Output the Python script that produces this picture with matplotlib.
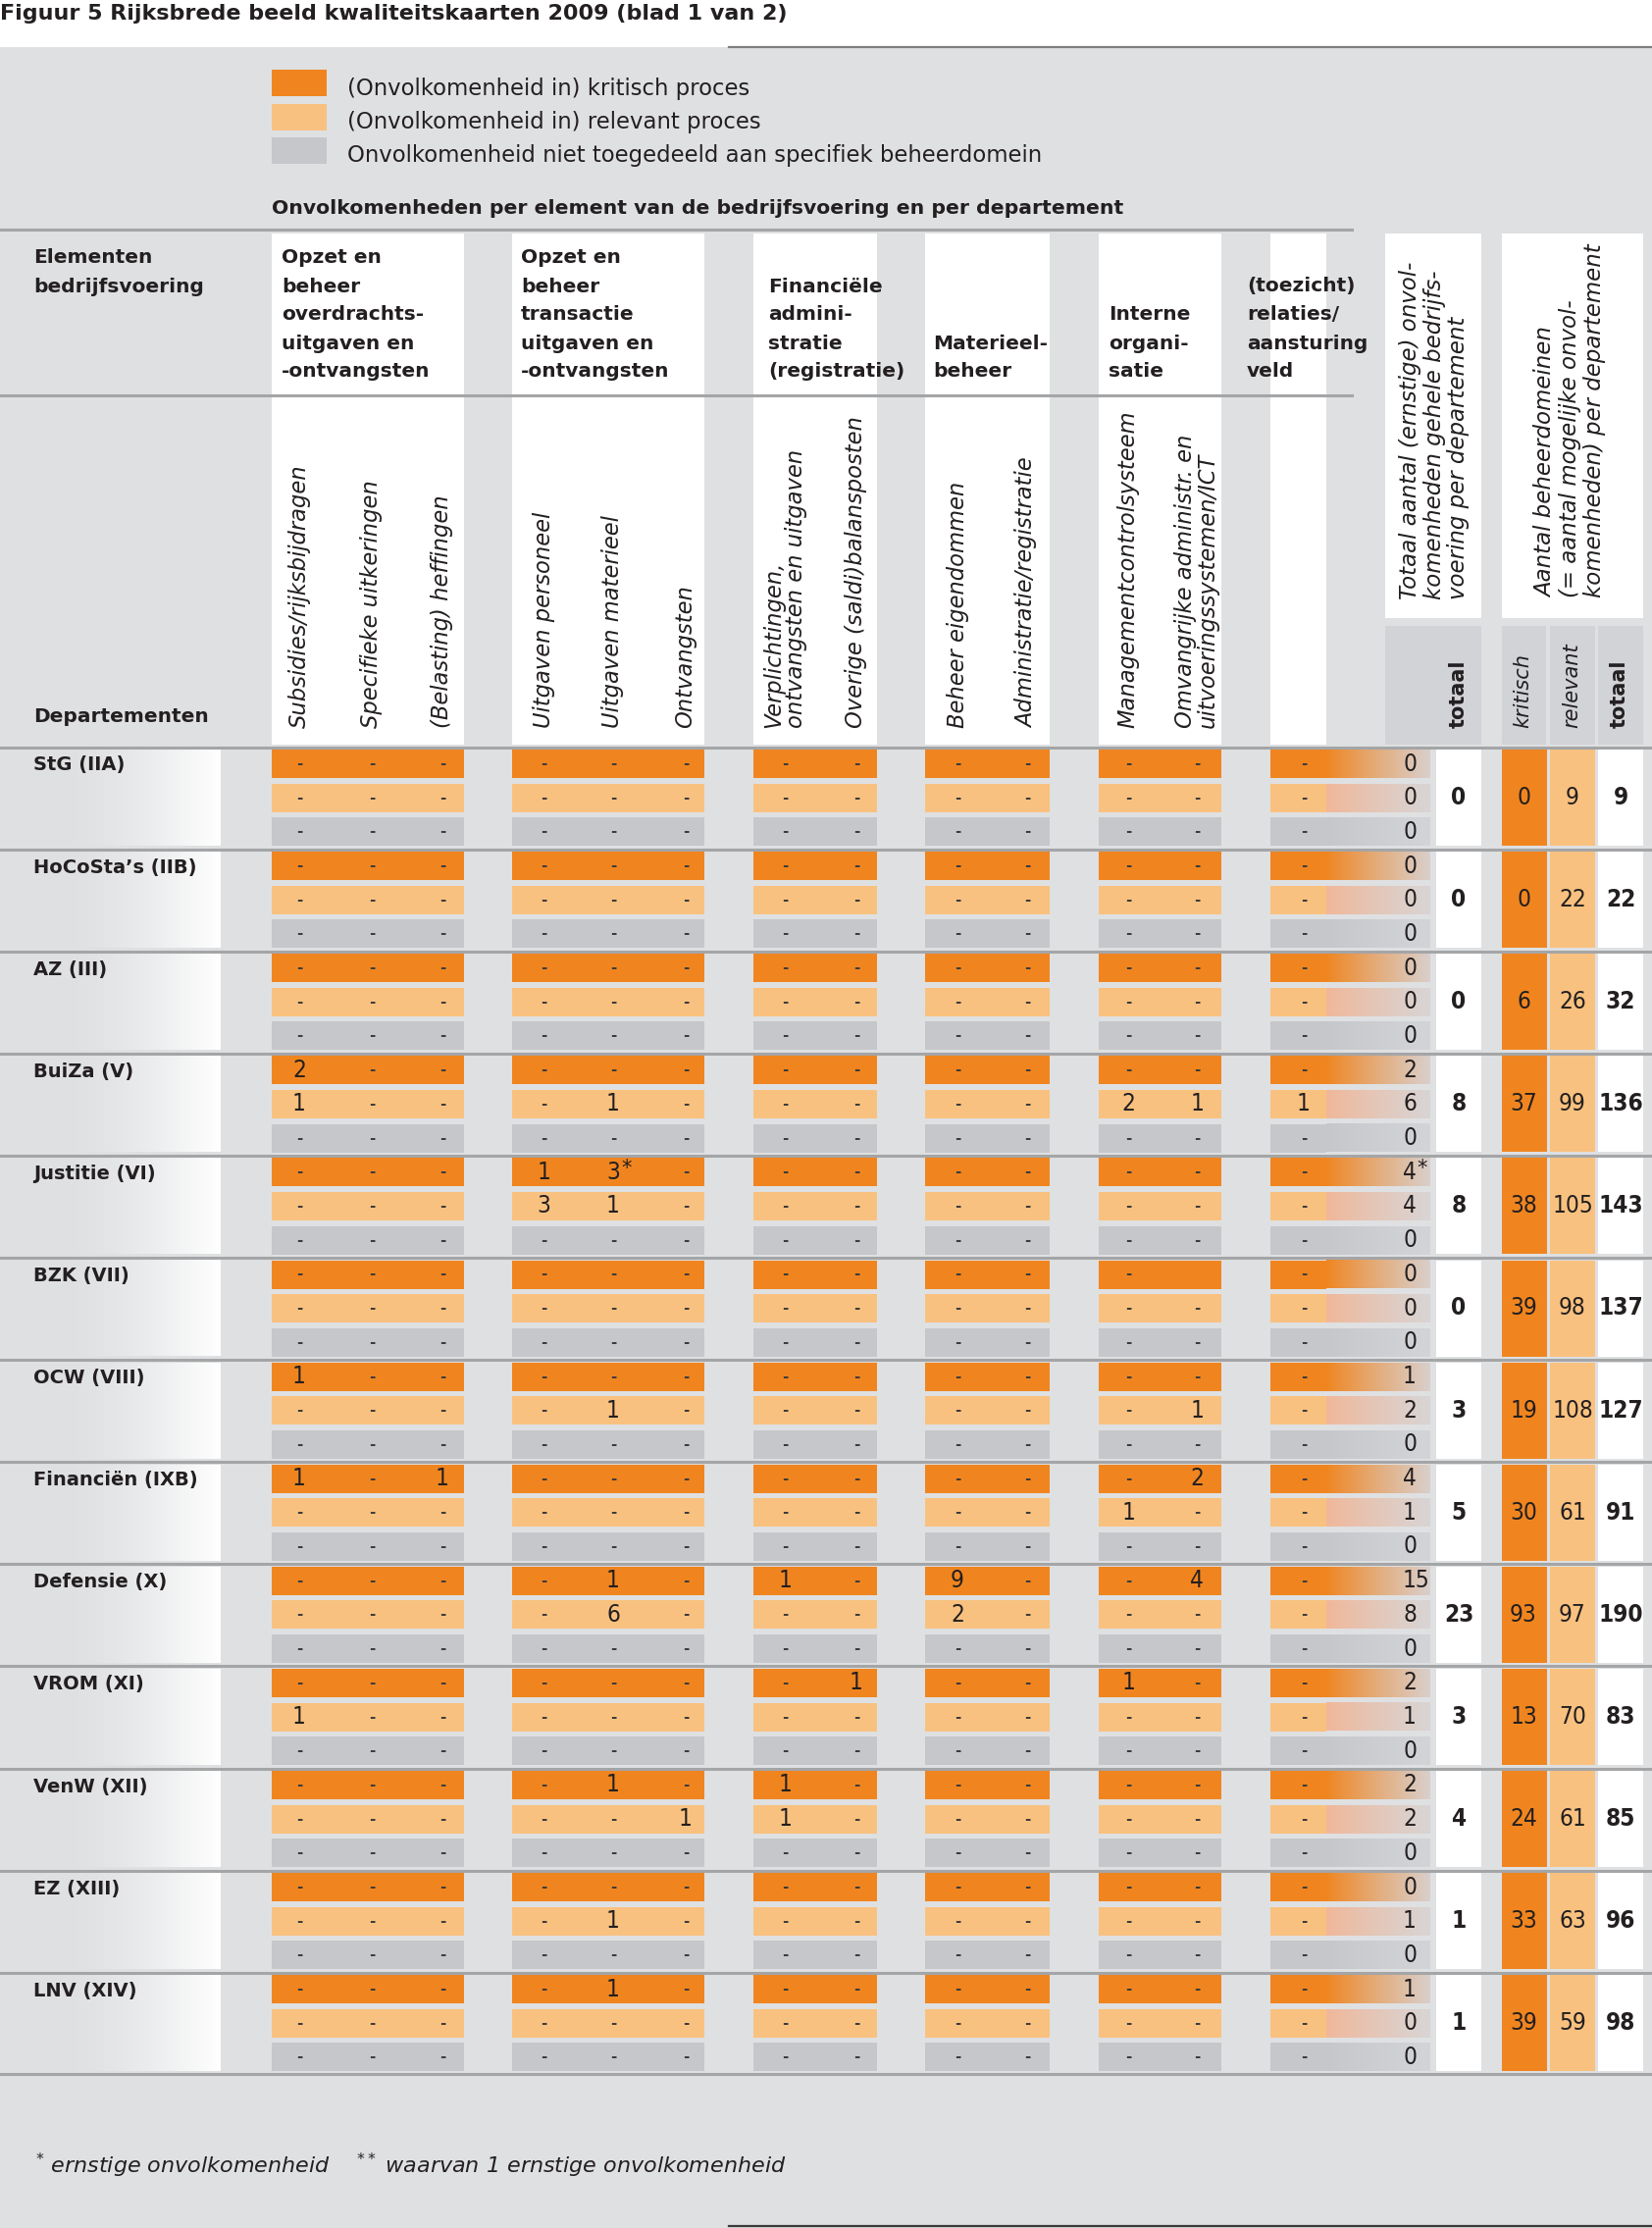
import numpy as np
import matplotlib
matplotlib.use("Agg")
import matplotlib.pyplot as plt
from matplotlib.patches import Rectangle
from matplotlib.colors import to_rgb
from matplotlib import font_manager

# ---------------- data ----------------
departementen = ["StG (IIA)", "HoCoSta’s (IIB)", "AZ (III)", "BuiZa (V)",
                 "Justitie (VI)", "BZK (VII)", "OCW (VIII)", "Financiën (IXB)",
                 "Defensie (X)", "VROM (XI)", "VenW (XII)", "EZ (XIII)", "LNV (XIV)"]

# 13 cellen per regel ('_' = leeg)
kritisch_cellen = [
    "- - - - - - - - - - - - -",
    "- - - - - - - - - - - - -",
    "- - - - - - - - - - - - -",
    "2 - - - - - - - - - - - -",
    "- - - 1 3* - - - - - - - -",
    "- - - - - - - - - - - _ -",
    "1 - - - - - - - - - - - -",
    "1 - 1 - - - - - - - - 2 -",
    "- - - - 1 - 1 - 9 - - 4 -",
    "- - - - - - - 1 - - 1 - -",
    "- - - - 1 - 1 - - - - - -",
    "- - - - - - - - - - - - -",
    "- - - - 1 - - - - - - - -",
]
relevant_cellen = [
    "- - - - - - - - - - - - -",
    "- - - - - - - - - - - - -",
    "- - - - - - - - - - - - -",
    "1 - - - 1 - - - - - 2 1 1",
    "- - - 3 1 - - - - - - - -",
    "- - - - - - - - - - - - -",
    "- - - - 1 - - - - - - 1 -",
    "- - - - - - - - - - 1 - -",
    "- - - - 6 - - - 2 - - - -",
    "1 - - - - - - - - - - - -",
    "- - - - - 1 1 - - - - - -",
    "- - - - 1 - - - - - - - -",
    "- - - - - - - - - - - - -",
]
overig_cellen = ["- - - - - - - - - - - - -"] * 13

kritisch_totaal = ["0", "0", "0", "2", "4*", "0", "1", "4", "15", "2", "2", "0", "1"]
relevant_totaal = ["0", "0", "0", "6", "4", "0", "2", "1", "8", "1", "2", "1", "0"]
overig_totaal = ["0", "0", "0", "0", "0", "0", "0", "0", "0", "0", "0", "0", "0"]
totaal_onvolkomenheden = [0, 0, 0, 8, 8, 0, 3, 5, 23, 3, 4, 1, 1]
domeinen_kritisch = [0, 0, 6, 37, 38, 39, 19, 30, 93, 13, 24, 33, 39]
domeinen_relevant = [9, 22, 26, 99, 105, 98, 108, 61, 97, 70, 61, 63, 59]
domeinen_totaal = [9, 22, 32, 136, 143, 137, 127, 91, 190, 83, 85, 96, 98]

kolom_labels = ["Subsidies/rijksbijdragen", "Specifieke uitkeringen",
                "(Belasting) heffingen", "Uitgaven personeel", "Uitgaven materieel",
                "Ontvangsten", "Verplichtingen,\nontvangsten en uitgaven",
                "Overige (saldi)balansposten", "Beheer eigendommen",
                "Administratie/registratie", "Managementcontrolsysteem",
                "Omvangrijke administr. en\nuitvoeringssystemen/ICT", ""]
groep_koppen = [
    ["Opzet en", "beheer", "overdrachts-", "uitgaven en", "-ontvangsten"],
    ["Opzet en", "beheer", "transactie", "uitgaven en", "-ontvangsten"],
    ["Financiële", "admini-", "stratie", "(registratie)"],
    ["Materieel-", "beheer"],
    ["Interne", "organi-", "satie"],
    ["(toezicht)", "relaties/", "aansturing", "veld"],
]
legenda = ["(Onvolkomenheid in) kritisch proces",
           "(Onvolkomenheid in) relevant proces",
           "Onvolkomenheid niet toegedeeld aan specifiek beheerdomein"]

# ---------------- layout ----------------
W, H = 1684, 2271
ORANJE = "#f0851f"
LICHT = "#f9c17f"
GRIJS = "#c5c7ca"
ACHTER = "#dfe0e2"
DONKER = "#d1d3d6"
LIJN = "#a4a5a7"
TEKST = "#231f20"

col_x = [305, 379, 451, 554, 625, 699, 800, 873, 976, 1047, 1150, 1220, 1329]
groep_x = [(277, 473), (522, 718), (768, 894), (943, 1070), (1120, 1245), (1295, 1352)]
kop_x = [287, 531, 783, 951, 1130, 1271]
blok_y0, blok_pitch, rij_pitch, rij_h = 764, 104.1, 34.6, 29

# smalle letter voor de getallen als die er is
namen = {(f.name, f.stretch) for f in font_manager.fontManager.ttflist}
if any(n == "Liberation Sans Narrow" for n, s in namen):
    GETAL_FONT = dict(family="Liberation Sans Narrow", fontsize=18.5)
elif ("DejaVu Sans", "condensed") in namen:
    GETAL_FONT = dict(family="DejaVu Sans", fontstretch="condensed", fontsize=17.5)
else:
    GETAL_FONT = dict(family="DejaVu Sans", fontsize=15.5)


def hgrad(ax, x0, x1, y0, y1, c0, c1, power=1.0, n=256):
    t = np.linspace(0, 1, n) ** power
    a, b = np.array(to_rgb(c0)), np.array(to_rgb(c1))
    img = (a[None, :] * (1 - t[:, None]) + b[None, :] * t[:, None])[None, :, :]
    ax.imshow(img, extent=(x0, x1, y1, y0), aspect="auto",
              interpolation="bilinear", zorder=1)


def rect(ax, x0, x1, y0, y1, color, z=1):
    ax.add_patch(Rectangle((x0, y0), x1 - x0, y1 - y0, facecolor=color,
                           edgecolor="none", zorder=z))


def cel_tekst(ax, x, y, s, bold=False, ha="center"):
    if s == "_":
        return
    if s == "-":
        ax.text(x, y, "-", ha="center", va="center", fontsize=11,
                fontweight="bold", color="#3c3c3c", zorder=5)
        return
    ster = s.endswith("*")
    s = s.rstrip("*")
    t = ax.text(x, y, s, ha=ha, va="center", color=TEKST,
                fontweight="bold" if bold else "normal", zorder=5, **GETAL_FONT)
    if ster:
        # asterisk direct achter het getal
        fig = ax.figure
        bb = t.get_window_extent(renderer=fig.canvas.get_renderer())
        xr = ax.transData.inverted().transform((bb.x1, bb.y1))
        ax.text(xr[0] + 1, y - 4, "*", ha="left", va="center", fontsize=15,
                color=TEKST, zorder=5)


fig = plt.figure(figsize=(W / 100, H / 100), dpi=100, facecolor="white")
ax = fig.add_axes([0, 0, 1, 1])
ax.set_xlim(0, W)
ax.set_ylim(H, 0)
ax.axis("off")

# achtergrond
rect(ax, 0, W, 48, H, ACHTER, z=0)
ax.plot([743, W], [48, 48], color="#7d7e80", lw=1.6, zorder=3)
ax.plot([743, W], [2269, 2269], color="#3a3a3a", lw=1.6, zorder=3)

ax.text(0, 14, "Figuur 5 Rijksbrede beeld kwaliteitskaarten 2009 (blad 1 van 2)",
        ha="left", va="center", fontsize=16, fontweight="bold", color=TEKST)

# legenda
for k, (kleur, tekst) in enumerate(zip([ORANJE, LICHT, GRIJS], legenda)):
    y0 = 71 + k * 34.5
    rect(ax, 277, 333, y0, y0 + 27, kleur)
    ax.text(354, y0 + 19, tekst, ha="left", va="center", fontsize=16.4, color=TEKST)

ax.text(277, 213, "Onvolkomenheden per element van de bedrijfsvoering en per departement",
        ha="left", va="center", fontsize=14.7, fontweight="bold", color=TEKST)

# kopblokken
for x0, x1 in groep_x:
    rect(ax, x0, x1, 238, 759, "white")
rect(ax, 1412, 1510, 238, 630, "white")
rect(ax, 1531, 1675, 238, 630, "white")
for x0, x1 in [(1412, 1510), (1531, 1576), (1580, 1626), (1629, 1675)]:
    rect(ax, x0, x1, 638, 759, DONKER)
ax.plot([0, 1378], [234, 234], color=LIJN, lw=2.2, zorder=3)
ax.plot([0, 1378], [403, 403], color=LIJN, lw=2.2, zorder=3)

ax.text(34, 263, "Elementen", ha="left", va="center", fontsize=14.5,
        fontweight="bold", color=TEKST)
ax.text(34, 292, "bedrijfsvoering", ha="left", va="center", fontsize=14.5,
        fontweight="bold", color=TEKST)
for x, regels in zip(kop_x, groep_koppen):
    for k, regel in enumerate(reversed(regels)):
        ax.text(x, 379 - k * 29, regel, ha="left", va="center", fontsize=14.5,
                fontweight="bold", color=TEKST, zorder=4)
ax.text(34, 730, "Departementen", ha="left", va="center", fontsize=14.5,
        fontweight="bold", color=TEKST)

for x, lab in zip(col_x, kolom_labels):
    ax.text(x, 742, lab, rotation=90, ha="center", va="bottom", style="italic",
            fontsize=16.3, multialignment="left", linespacing=0.95, color=TEKST)

ax.text(1462, 611, "Totaal aantal (ernstige) onvol-\nkomenheden gehele bedrijfs-\nvoering per departement",
        rotation=90, ha="center", va="bottom", style="italic", fontsize=16.5,
        multialignment="left", linespacing=1.1, color=TEKST)
ax.text(1601, 609, "Aantal beheerdomeinen\n(= aantal mogelijke onvol-\nkomenheden) per departement",
        rotation=90, ha="center", va="bottom", style="italic", fontsize=16.5,
        multialignment="left", linespacing=1.1, color=TEKST)
for x, lab, vet in [(1487, "totaal", True), (1552, "kritisch", False),
                    (1602, "relevant", False), (1651, "totaal", True)]:
    ax.text(x, 742, lab, rotation=90, ha="center", va="bottom", fontsize=15,
            style="normal" if vet else "italic", fontweight="bold" if vet else "normal",
            color=TEKST)

# departementen
rij_kleuren = [ORANJE, LICHT, GRIJS]
grad_start = [ORANJE, "#f1b799", GRIJS]
grad_eind = ["#d9cfcc", "#d8d5d5", "#d3d4d7"]
for i, dep in enumerate(departementen):
    y0 = blok_y0 + i * blok_pitch
    ax.plot([0, W], [y0 - 2.5, y0 - 2.5], color=LIJN, lw=2.2, zorder=3)
    hgrad(ax, 60, 225, y0, y0 + 98, ACHTER, "#ffffff", power=1.6)
    ax.text(34, y0 + 16, dep, ha="left", va="center", fontsize=14,
            fontweight="bold", color=TEKST, zorder=5)

    rijen = [kritisch_cellen[i], relevant_cellen[i], overig_cellen[i]]
    totalen = [kritisch_totaal[i], relevant_totaal[i], overig_totaal[i]]
    for r in range(3):
        ry = y0 + r * rij_pitch
        for x0, x1 in groep_x:
            rect(ax, x0, x1, ry, ry + rij_h, rij_kleuren[r])
        hgrad(ax, 1352, 1458, ry, ry + rij_h, grad_start[r], grad_eind[r], power=0.9)
        for x, s in zip(col_x, rijen[r].split()):
            cel_tekst(ax, x, ry + rij_h / 2, s)
        cel_tekst(ax, 1430, ry + rij_h / 2, totalen[r], ha="left")

    yb = y0 + 98
    rect(ax, 1464, 1510, y0, yb, "white")
    rect(ax, 1531, 1577, y0, yb, ORANJE)
    rect(ax, 1580, 1626, y0, yb, LICHT)
    rect(ax, 1629, 1675, y0, yb, "white")
    ym = y0 + 49
    cel_tekst(ax, 1487, ym, str(totaal_onvolkomenheden[i]), bold=True)
    cel_tekst(ax, 1553, ym, str(domeinen_kritisch[i]))
    cel_tekst(ax, 1603, ym, str(domeinen_relevant[i]))
    cel_tekst(ax, 1652, ym, str(domeinen_totaal[i]), bold=True)

y_eind = blok_y0 + 12 * blok_pitch + 98 + 2.5
ax.plot([0, W], [y_eind, y_eind], color=LIJN, lw=2.2, zorder=3)

ax.text(36, 2207, r"$^{*}$ ernstige onvolkomenheid    $^{**}$ waarvan 1 ernstige onvolkomenheid",
        ha="left", va="center", fontsize=16, style="italic", color=TEKST)

ax.set_xlim(0, W)
ax.set_ylim(H, 0)
fig.savefig("out.png", dpi=100, facecolor="white")
